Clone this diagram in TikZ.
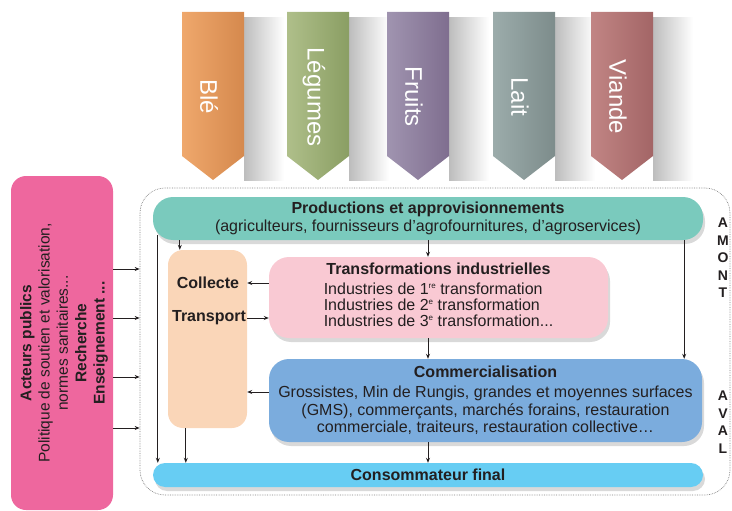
\documentclass[tikz,border=0pt]{standalone}
\usepackage{fontspec}
\setmainfont{Liberation Sans}
\usetikzlibrary{shadows, arrows.meta}
\definecolor{txt}{HTML}{231F20}
\definecolor{acteurs}{HTML}{EE679E}
\definecolor{prodfill}{HTML}{7ACABD}
\definecolor{collfill}{HTML}{FAD6B8}
\definecolor{transfill}{HTML}{F9C9D3}
\definecolor{commfill}{HTML}{7BACDD}
\definecolor{consfill}{HTML}{67CDF3}
\newcommand\expo[1]{\raisebox{0.75ex}{\fontsize{8}{8}\selectfont #1}}
\tikzset{
  box/.style={rounded corners=20pt, align=center, text=txt, inner sep=0pt,
    font=\fontsize{16}{17.5}\selectfont,
    drop shadow={opacity=0.3, shadow xshift=2pt, shadow yshift=-4pt}},
  arr/.style={-{Stealth[length=5pt, width=4pt]}, line width=1pt, txt},
  lab/.style={font=\bfseries\fontsize{16}{17}\selectfont, text=txt, inner sep=0pt},
  side/.style={font=\bfseries\fontsize{14}{17.5}\selectfont, text=txt, align=center, inner sep=0pt},
  bantext/.style={rotate=-90, text=white, font=\fontsize{24}{24}\selectfont, inner sep=0pt}
}
\begin{document}
\begin{tikzpicture}[x=1pt, y=-1pt]
\useasboundingbox (0,0) rectangle (732,511);

\foreach \x/\a/\b/\name in {182/EFA86C/D5894D/Blé, 287/AFBF8A/8A9E63/Légumes, 387/A094B0/7F6E8F/Fruits, 493/9CACAB/7D8C8B/Lait, 591/C18584/A36566/Viande}{
  \definecolor{ca}{HTML}{\a}\definecolor{cb}{HTML}{\b}
  \shade[left color=black!26, right color=white] (\x+62,18) rectangle (\x+102,180);
  \shade[left color=ca, right color=cb] (\x,12) -- (\x+62,12) -- (\x+62,156) -- (\x+31,180) -- (\x,156) -- cycle;
  \node[bantext] at (\x+27,97) {\name};
}

\node[draw=gray, densely dotted, line width=0.7pt, rounded corners=25pt, minimum width=590pt, minimum height=307pt] (cadre) at (435,341.5) {};

\node[fill=acteurs, rounded corners=15pt, minimum width=102pt, minimum height=334pt] (acteurs) at (62,343) {};
\node[rotate=90, align=center, text=txt, font=\fontsize{15.5}{18.3}\selectfont, inner sep=0pt] (acttext) at (64,343) {\textbf{Acteurs publics}\\Politique de soutien et valorisation,\\normes sanitaires...\\\textbf{Recherche}\\\textbf{Enseignement ...}};

\node[box, fill=prodfill, minimum width=550pt, minimum height=43pt] (prod) at (428,218.5) {\textbf{Productions et approvisionnements}\\(agriculteurs, fournisseurs d’agrofournitures, d’agroservices)};
\node[fill=collfill, rounded corners=15pt, minimum width=79pt, minimum height=178pt] (collecte) at (207.5,339) {};
\node[box, fill=transfill, minimum width=339pt, minimum height=81pt] (trans) at (438.5,297.5) {\textbf{Transformations industrielles}\\[3pt]\begin{tabular}[t]{@{}l@{}}Industries de 1\expo{re} transformation\\[-1.5pt]Industries de 2\expo{e} transformation\\[-1.5pt]Industries de 3\expo{e} transformation...\end{tabular}};
\node[box, fill=commfill, minimum width=433pt, minimum height=83pt] (comm) at (485.5,400.5) {\textbf{Commercialisation}\\[2.5pt]Grossistes, Min de Rungis, grandes et moyennes surfaces\\(GMS), commerçants, marchés forains, restauration\\commerciale, traiteurs, restauration collective\dots};
\node[box, fill=consfill, rounded corners=12pt, minimum width=550pt, minimum height=24pt] (conso) at (428,475) {\textbf{Consommateur final}};

\node[lab] (col) at (208,283) {Collecte};
\node[lab] (tra) at (209,318) {Transport};
\node[side] (amont) at (723,258) {A\\M\\O\\N\\T};
\node[side] (aval) at (723,422) {A\\V\\A\\L};

\foreach \y in {269,318,377,428}
  \draw[arr] (acteurs.east |- 0,\y) -- (cadre.west |- 0,\y);

\draw[arr] ([xshift=12pt]collecte.north west |- prod.south) -- ([xshift=12pt]collecte.north west);
\draw[arr] ([xshift=5pt,yshift=5pt]prod.south west) -- ([xshift=5pt]prod.south west |- conso.north);
\draw[arr] ([xshift=18pt]collecte.south west) -- ([xshift=18pt]collecte.south west |- conso.north);
\draw[arr] (trans.west |- col) -- (collecte.east |- col);
\draw[arr] (collecte.east |- tra) -- (trans.west |- tra);
\draw[arr] ([yshift=8.5pt]comm.west) coordinate (cw) -- (collecte.east |- cw);
\draw[arr] (prod.south) -- (prod.south |- trans.north);
\draw[arr] (prod.south |- trans.south) -- (prod.south |- comm.north);
\draw[arr] (prod.south |- comm.south) -- (prod.south |- conso.north);
\draw[arr] ([xshift=-19pt]prod.south east) -- ([xshift=-19pt]prod.south east |- comm.north);
\end{tikzpicture}
\end{document}
